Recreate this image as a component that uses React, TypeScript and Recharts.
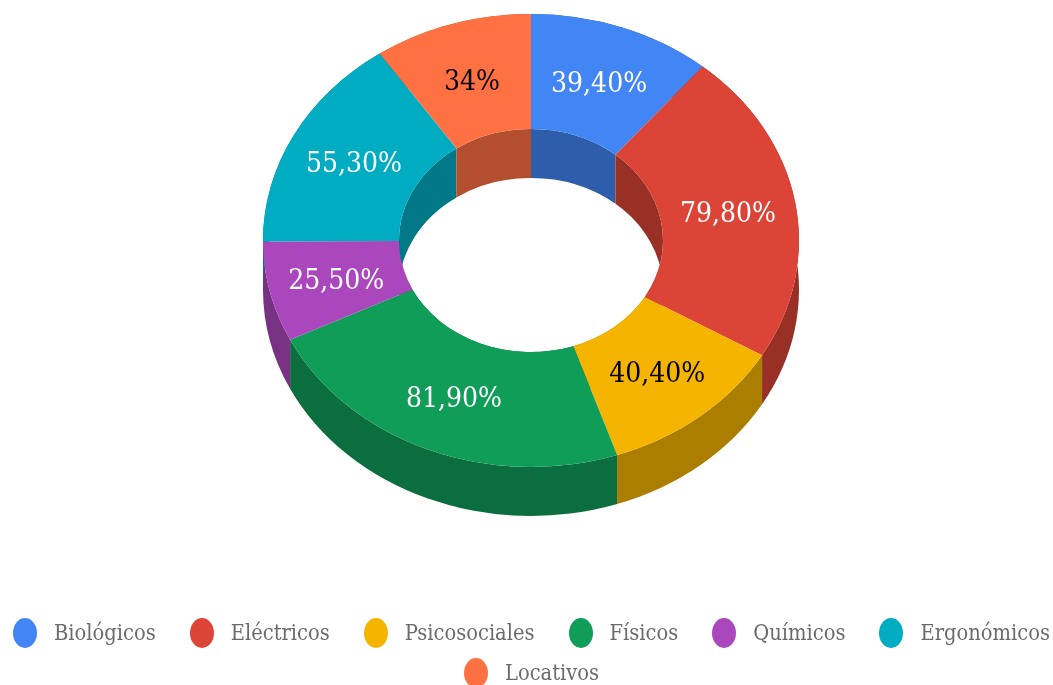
import React from 'react';
import { PieChart, Pie, Cell, Legend } from 'recharts';

const categories = ['Biológicos', 'Eléctricos', 'Psicosociales', 'Físicos', 'Químicos', 'Ergonómicos', 'Locativos'];
const values = [39.4, 79.8, 40.4, 81.9, 25.5, 55.3, 34];
const valueLabels = ['39,40%', '79,80%', '40,40%', '81,90%', '25,50%', '55,30%', '34%'];
const colors = ['#4285F4', '#DB4437', '#F4B400', '#0F9D58', '#AB47BC', '#00ACC1', '#FF7043'];
const wallColors = ['#2E5DAB', '#993026', '#AB7E00', '#0B6E3E', '#783284', '#007887', '#B34E2F'];
const labelColors = ['#ffffff', '#ffffff', '#000000', '#ffffff', '#ffffff', '#ffffff', '#000000'];

const data = categories.map((name, i) => ({ name, value: values[i] }));

const SQUASH = 226.5 / 268;
const DEPTH = 49;
const RAD = Math.PI / 180;
const FONT = '"DejaVu Serif Condensed", "DejaVu Serif", serif';

const pt = (cx: number, cy: number, r: number, a: number, dz = 0) =>
  `${(cx + r * Math.cos(a * RAD)).toFixed(2)} ${(cy - SQUASH * r * Math.sin(a * RAD) + dz).toFixed(2)}`;

const arc = (r: number, large: number, sweep: number, to: string) =>
  `A ${r} ${(r * SQUASH).toFixed(2)} 0 ${large} ${sweep} ${to}`;

const TopFace = (p: any) => {
  const { cx, cy, innerRadius: ir, outerRadius: or, startAngle: s, endAngle: e, fill } = p;
  const large = Math.abs(e - s) > 180 ? 1 : 0;
  const d = `M ${pt(cx, cy, or, s)} ${arc(or, large, 1, pt(cx, cy, or, e))} L ${pt(cx, cy, ir, e)} ${arc(ir, large, 0, pt(cx, cy, ir, s))} Z`;
  return <path d={d} fill={fill} stroke="none" />;
};

const WallFace = (p: any) => {
  const { cx, cy, innerRadius: ir, outerRadius: or, startAngle: s, endAngle: e, fill } = p;
  const large = Math.abs(e - s) > 180 ? 1 : 0;
  const band = (r: number) =>
    `M ${pt(cx, cy, r, s)} ${arc(r, large, 1, pt(cx, cy, r, e))} L ${pt(cx, cy, r, e, DEPTH)} ${arc(r, large, 0, pt(cx, cy, r, s, DEPTH))} Z`;
  return <path d={`${band(or)} ${band(ir)}`} fill={fill} stroke="none" />;
};

const renderLabel = (p: any) => {
  const { cx, cy, innerRadius: ir, outerRadius: or, midAngle, index } = p;
  const r = (ir + or) / 2;
  const x = cx + r * Math.cos(midAngle * RAD);
  const y = cy - SQUASH * r * Math.sin(midAngle * RAD) + 1;
  return (
    <text
      x={x}
      y={y}
      textAnchor="middle"
      dominantBaseline="central"
      fill={labelColors[index]}
      style={{ fontFamily: FONT, fontStretch: 'condensed', fontSize: 28 }}
    >
      {valueLabels[index]}
    </text>
  );
};

const LegendContent = ({ payload }: any) => {
  const order = (payload || [])
    .filter((item: any) => colors.includes(item.color))
    .sort((a: any, b: any) => categories.indexOf(a.value) - categories.indexOf(b.value));
  return (
    <div style={{ display: 'flex', flexWrap: 'wrap', justifyContent: 'center', columnGap: 34, rowGap: 10, width: 1053 }}>
      {order.map((item: any) => (
        <div key={item.value} style={{ display: 'flex', alignItems: 'center', height: 30 }}>
          <svg width={24} height={30} style={{ marginRight: 17 }}>
            <ellipse cx={12} cy={15} rx={12} ry={15} fill={item.color} />
          </svg>
          <span style={{ fontFamily: FONT, fontStretch: 'condensed', fontSize: 21.7, lineHeight: '22px', color: '#6b6b6b', whiteSpace: 'nowrap' }}>
            {item.value}
          </span>
        </div>
      ))}
    </div>
  );
};

export default function App() {
  return (
    <div style={{ position: 'fixed', left: 0, top: 0, width: 1053, height: 685, overflow: 'hidden', background: '#fff', filter: 'blur(0.6px)' }}>
      <PieChart width={1053} height={685} margin={{ top: 0, right: 0, bottom: 0, left: 0 }}>
        <Pie
          data={data}
          dataKey="value"
          nameKey="name"
          cx={531}
          cy={240.5}
          innerRadius={132}
          outerRadius={268}
          startAngle={90}
          endAngle={-270}
          paddingAngle={0}
          legendType="none"
          shape={WallFace}
          inactiveShape={WallFace}
          activeShape={WallFace}
          isAnimationActive={false}
        >
          {data.map((d, i) => <Cell key={d.name} fill={wallColors[i]} />)}
        </Pie>
        <Pie
          data={data}
          dataKey="value"
          nameKey="name"
          cx={531}
          cy={240.5}
          innerRadius={132}
          outerRadius={268}
          startAngle={90}
          endAngle={-270}
          paddingAngle={0}
          shape={TopFace}
          inactiveShape={TopFace}
          activeShape={TopFace}
          label={renderLabel}
          labelLine={false}
          isAnimationActive={false}
        >
          {data.map((d, i) => <Cell key={d.name} fill={colors[i]} />)}
        </Pie>
        <Legend content={LegendContent} wrapperStyle={{ left: 5, top: 618, width: 1053 }} />
      </PieChart>
    </div>
  );
}
